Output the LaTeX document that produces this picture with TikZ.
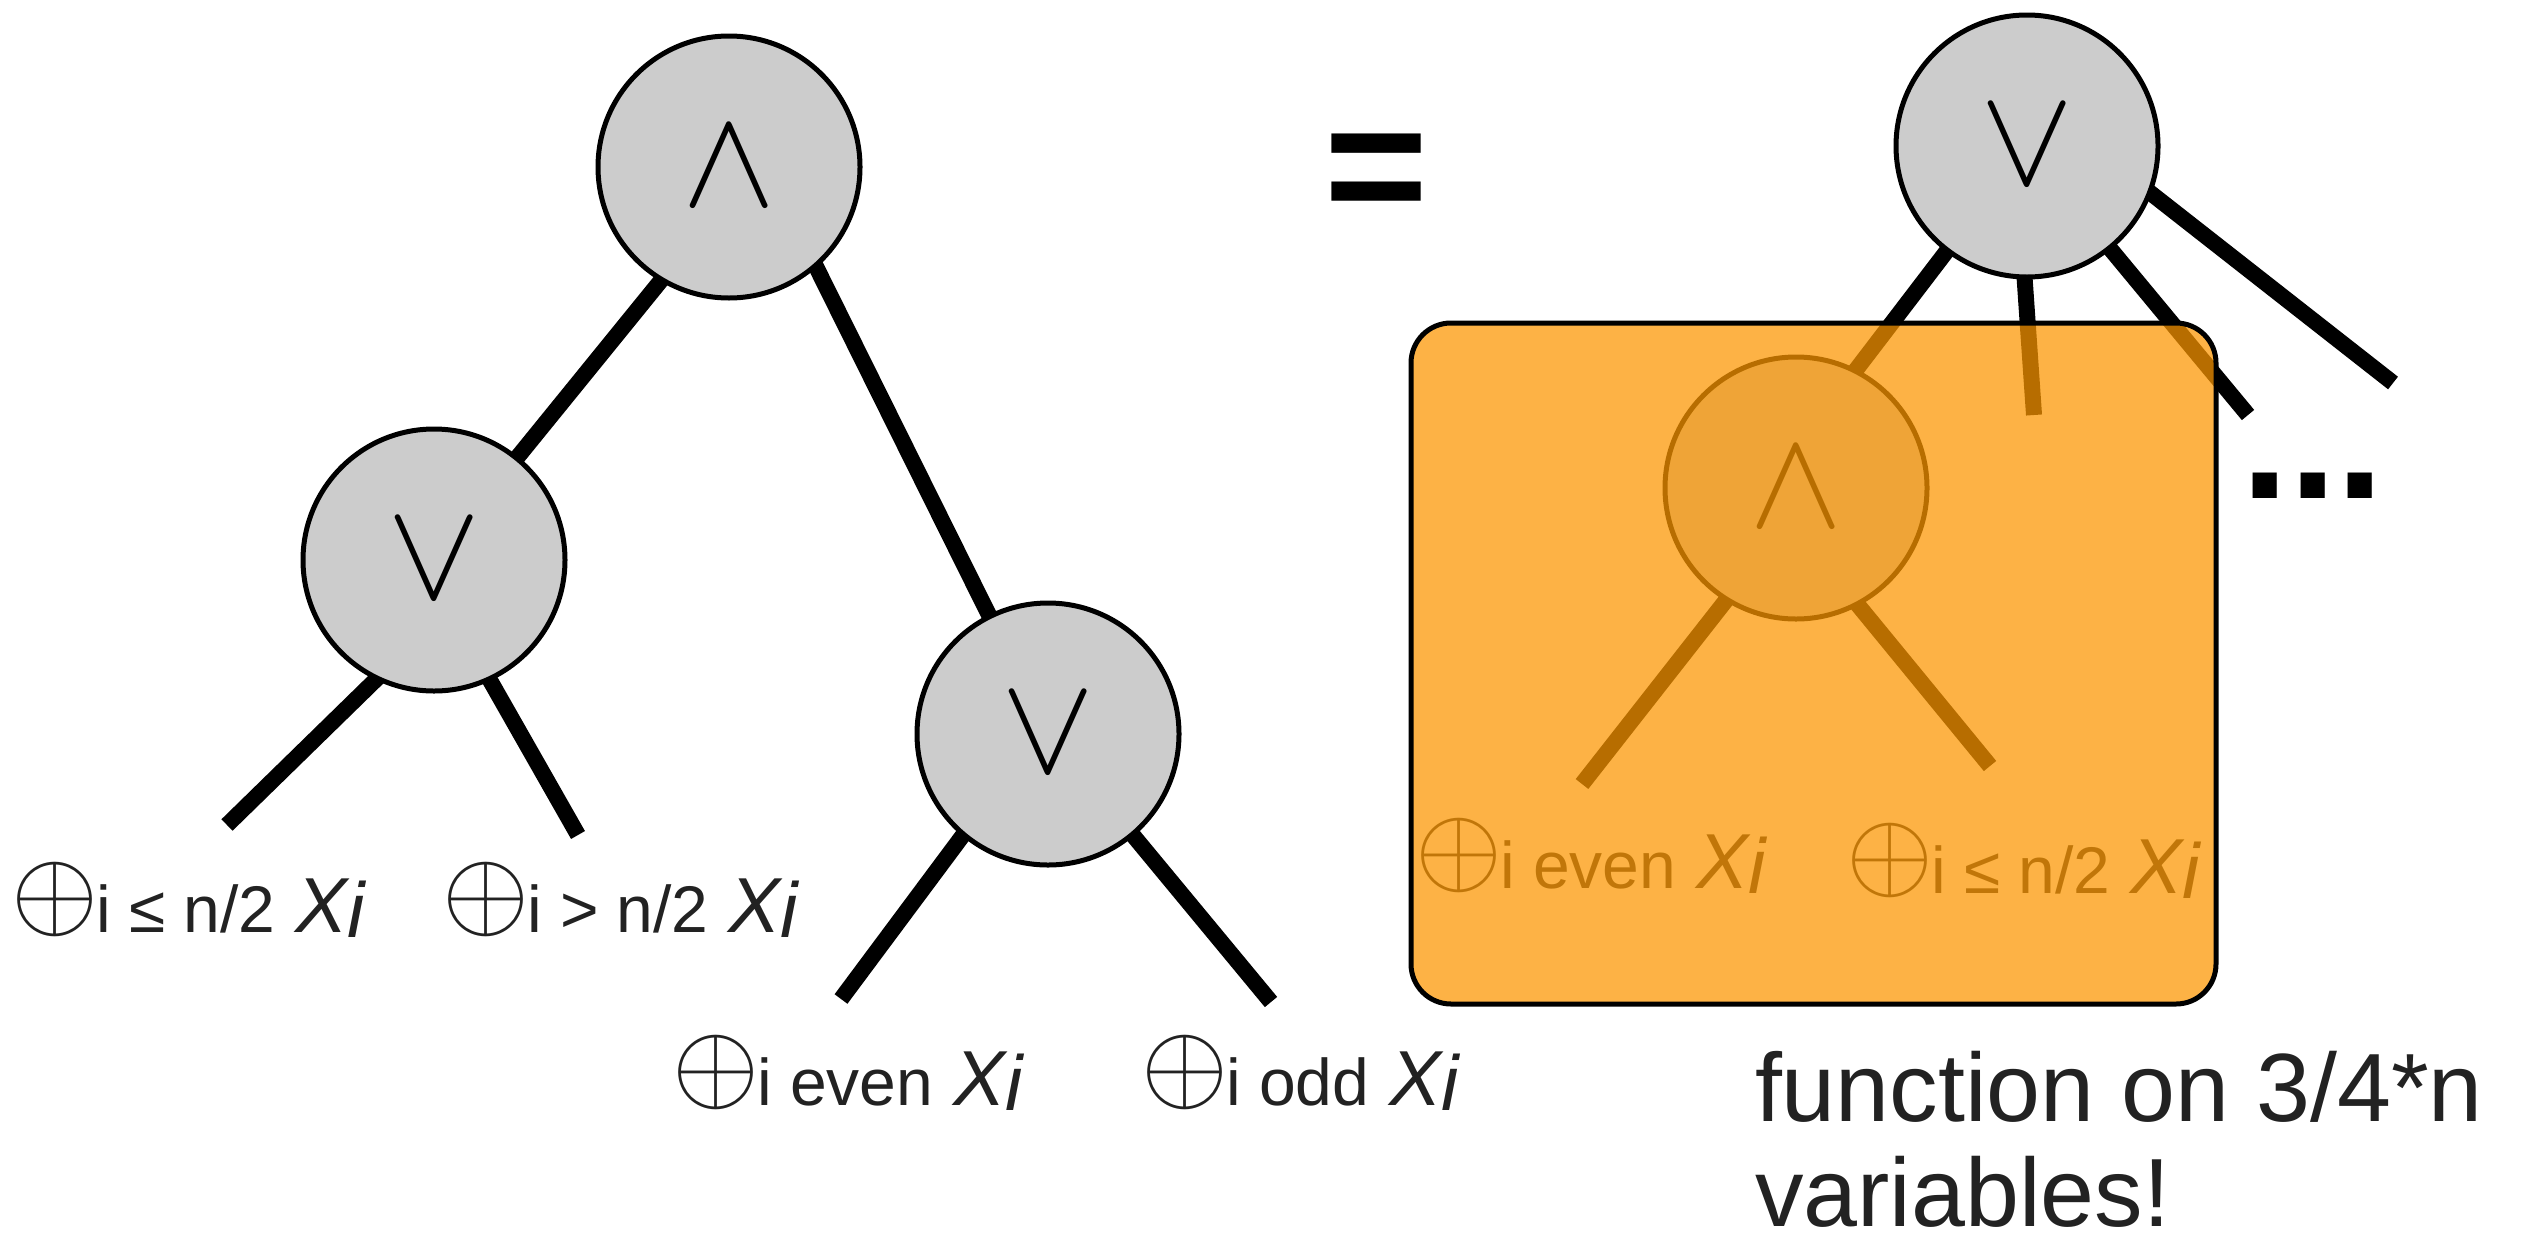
\documentclass[tikz,border=0pt]{standalone}
\usepackage{fontspec}
\setmainfont{Liberation Sans}
\usetikzlibrary{calc,backgrounds}
\definecolor{nodegray}{RGB}{204,204,204}
\definecolor{txt}{RGB}{34,34,34}
\definecolor{overlay}{RGB}{252,150,0}
\newcommand{\xorlabel}[1]{\raisebox{5pt}{\scalebox{11.2}{$\oplus$}}\kern-2pt{\fontsize{66}{66}\selectfont #1}\hspace{20pt}{\fontsize{78}{78}\selectfont\itshape X\raisebox{-5pt}{i}}}
\newcommand{\gatesym}[2]{\raisebox{#2}{\scalebox{14}{$#1$}}}
\tikzset{
  gate/.style={circle, draw=black, line width=5pt, fill=nodegray, minimum size=262pt, inner sep=0pt, text=black},
  wire/.style={line width=16pt, draw=black},
  lbl/.style={anchor=base west, inner sep=0pt, outer sep=0pt, text=txt},
  bigtxt/.style={anchor=base west, inner sep=0pt, outer sep=0pt, text=txt, font=\fontsize{97}{107}\selectfont},
  overlaybox/.style={draw=black, line width=5pt, rounded corners=40pt, fill=overlay, fill opacity=0.73, minimum width=805pt, minimum height=681pt, inner sep=0pt}
}
\begin{document}
\begin{tikzpicture}[x=1pt,y=-1pt]
\useasboundingbox (0,0) rectangle (2523,1237);
% gates
\node[gate] (ta) at (729,167) {\gatesym{\wedge}{-8pt}};
\node[gate] (lv) at (434,560) {\gatesym{\vee}{-3pt}};
\node[gate] (rv) at (1048,734) {\gatesym{\vee}{-3pt}};
\node[gate] (tr) at (2027,146) {\gatesym{\vee}{-3pt}};
\node[gate] (oa) at (1796,488) {\gatesym{\wedge}{-9pt}};
% free ends
\coordinate (lv1) at (227,825);
\coordinate (lv2) at (578,835);
\coordinate (rv1) at (841,999);
\coordinate (rv2) at (1271,1002);
\coordinate (oa1) at (1582,784);
\coordinate (oa2) at (1990,766);
\coordinate (tr2) at (2034,415);
\coordinate (tr3) at (2248,415);
\coordinate (tr4) at (2393,383);
% wires
\begin{scope}[on background layer]
\draw[wire] ($(ta.-121)!-30pt!(lv.center)$) -- (lv.center);
\draw[wire] ($(ta.-49)!-30pt!(rv.center)$) -- (rv.center);
\draw[wire] ($(lv.-116)!-30pt!(lv1)$) -- (lv1);
\draw[wire] ($(lv.-65)!-30pt!(lv2)$) -- (lv2);
\draw[wire] ($(rv.-130)!-30pt!(rv1)$) -- (rv1);
\draw[wire] ($(rv.-50)!-30pt!(rv2)$) -- (rv2);
\draw[wire] ($(oa.-122)!-30pt!(oa1)$) -- (oa1);
\draw[wire] ($(oa.-62)!-30pt!(oa2)$) -- (oa2);
\draw[wire] (tr.center) -- ($(oa.63)!-20pt!(tr.center)$);
\draw[wire] ($(tr.-91)!-30pt!(tr2)$) -- (tr2);
\draw[wire] ($(tr.-51)!-30pt!(tr3)$) -- (tr3);
\draw[wire] ($(tr.-21)!-30pt!(tr4)$) -- (tr4);
\end{scope}
% labels
\node[lbl] (l1) at (11,932) {\xorlabel{i ≤ n/2}};
\node[lbl] (l2) at (442,932) {\xorlabel{i > n/2}};
\node[lbl] (l3) at (672,1105) {\xorlabel{i even}};
\node[lbl] (l4) at (1141,1105) {\xorlabel{i odd}};
\node[lbl] (o1) at (1415,888) {\xorlabel{i even}};
\node[lbl] (o2) at (1846,893) {\xorlabel{i ≤ n/2}};
% equals and dots
\node[inner sep=0pt, text=black, font=\bfseries\fontsize{178}{178}\selectfont] (eq) at (1376,180) {=};
\node[inner sep=0pt, text=black, font=\bfseries\fontsize{171}{171}\selectfont] (dots) at (2313,486) {...};
% caption
\node[bigtxt] (fn1) at (1755,1121) {function on 3/4*n};
\node[bigtxt] (fn2) at (1755,1226) {variables!};
% orange overlay
\node[overlaybox] (box) at (1813.5,663.5) {};
\end{tikzpicture}
\end{document}
